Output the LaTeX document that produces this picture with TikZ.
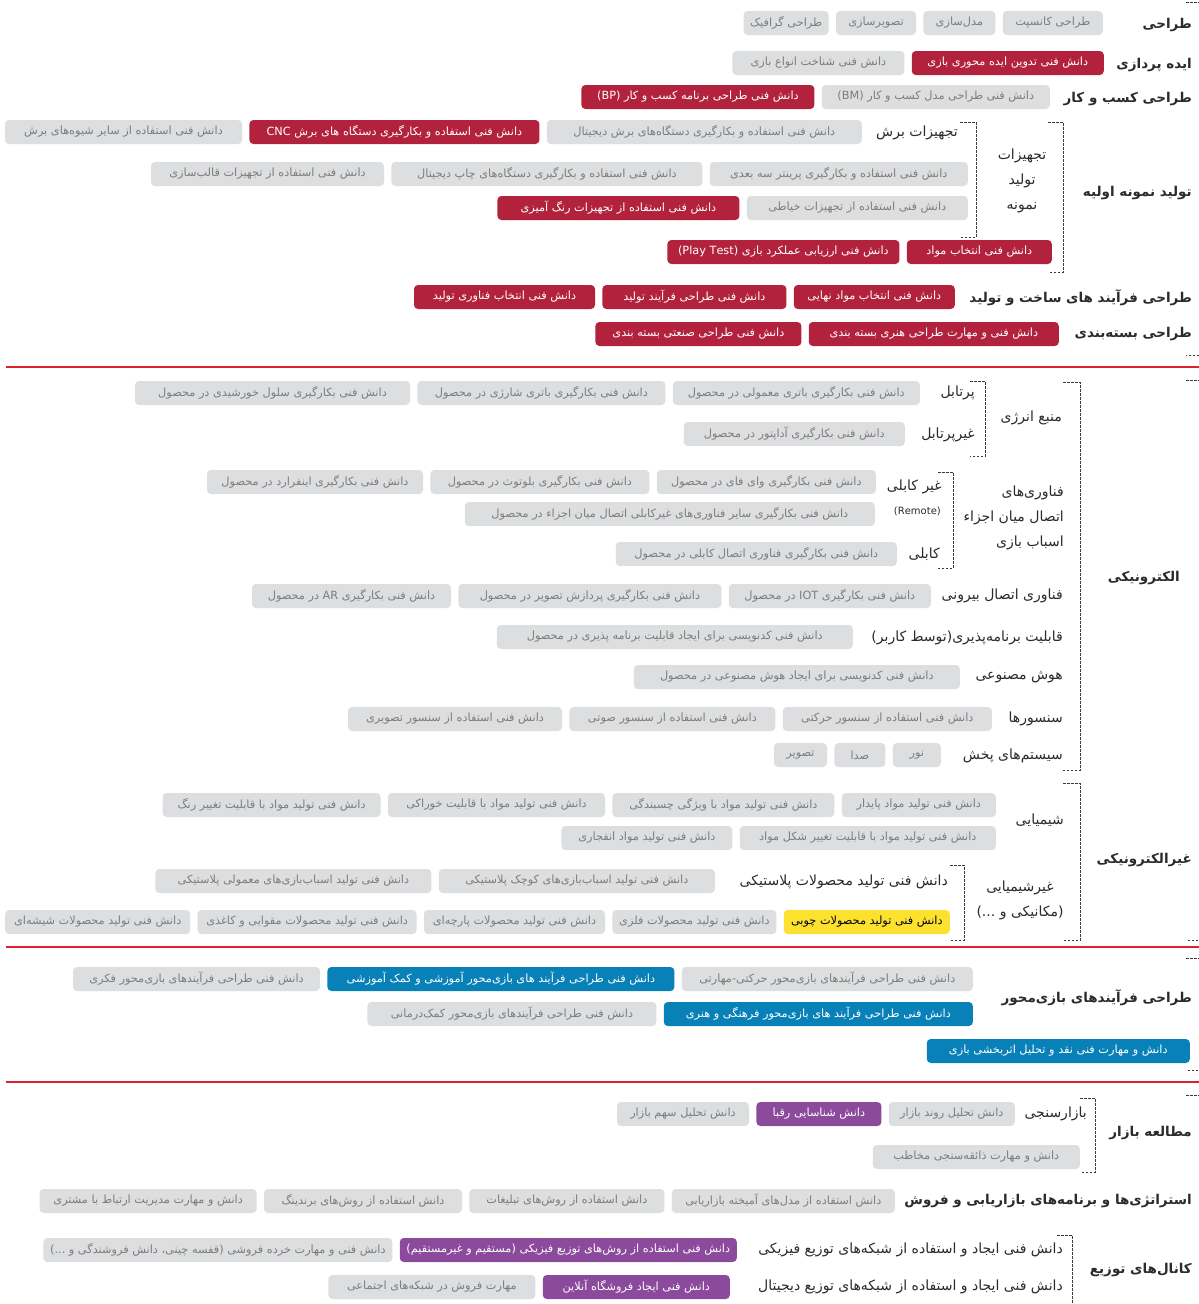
\documentclass[tikz,border=0pt]{standalone}
\usepackage{fontspec}
\newfontfamily\fa[Script=Arabic]{DejaVu Sans}
\TeXXeTstate=1
\usetikzlibrary{positioning}
\definecolor{boxgray}{HTML}{DDDEE0}
\definecolor{boxtext}{HTML}{7D7D7D}
\definecolor{boxred}{HTML}{B3223D}
\definecolor{boxblue}{HTML}{0880B8}
\definecolor{boxpurple}{HTML}{8B4A9C}
\definecolor{boxyellow}{HTML}{FCE22F}
\definecolor{headtext}{HTML}{2B2B2B}
\definecolor{sepred}{HTML}{D9232E}
\definecolor{brkcol}{HTML}{3A3A3A}
\newcommand{\fatext}[1]{\beginR #1\endR}

\begin{document}
\begin{tikzpicture}[x=1pt, y=-1pt,
    node distance=7pt,
    box/.style={rounded corners=4pt, minimum height=24pt, inner sep=2pt, font=\fa\fontsize{11.3}{13}\selectfont},
    graybox/.style={box, fill=boxgray, text=boxtext},
    redbox/.style={box, fill=boxred, text=white},
    bluebox/.style={box, fill=boxblue, text=white},
    purplebox/.style={box, fill=boxpurple, text=white},
    yellowbox/.style={box, fill=boxyellow, text=black},
    head/.style={anchor=east, inner sep=0pt, text=headtext, font=\fa\bfseries\fontsize{13.5}{16}\selectfont},
    sub/.style={anchor=east, inner sep=0pt, text=headtext, font=\fa\fontsize{14}{25}\selectfont},
    brk/.style={draw=brkcol, line width=0.8pt, dash pattern=on 2.5pt off 1.5pt},
    sep/.style={draw=sepred, line width=1.2pt}
]
\useasboundingbox (0,0) rectangle (1199,1304);
\fill[white] (0,0) rectangle (1199,1304);

% --- design / prototype
\node[head] (hDesign) at (1192,25) {\fatext{طراحی}};
\node[graybox, minimum width=100pt, anchor=east] (d1) at (1103,23) {\fatext{طراحی کانسپت}};
\node[graybox, minimum width=72pt, left=of d1] (d2) {\fatext{مدل‌سازی}};
\node[graybox, minimum width=80pt, left=of d2] (d3) {\fatext{تصویرسازی}};
\node[graybox, minimum width=85pt, left=of d3] (d4) {\fatext{طراحی گرافیک}};

\node[head] (hIdea) at (1192,65) {\fatext{ایده پردازی}};
\node[redbox, minimum width=192pt, anchor=east] (i1) at (1104,63) {\fatext{دانش فنی تدوین ایده محوری بازی}};
\node[graybox, minimum width=172pt, left=of i1] (i2) {\fatext{دانش فنی شناخت انواع بازی}};

\node[head] (hBiz) at (1192,99) {\fatext{طراحی کسب و کار}};
\node[graybox, minimum width=228pt, anchor=east] (b1) at (1050,97) {\fatext{دانش فنی طراحی مدل کسب و کار \beginL(BM)\endL}};
\node[redbox, minimum width=233pt, left=of b1] (b2) {\fatext{دانش فنی طراحی برنامه کسب و کار \beginL(BP)\endL}};

\node[head] (hProto) at (1192,193) {\fatext{تولید نمونه اولیه}};
\node[sub, anchor=center, align=center] (lEquip) at (1022,181) {\fatext{تجهیزات}\\\fatext{تولید}\\\fatext{نمونه}};
\node[sub] (lCut) at (958,133) {\fatext{تجهیزات برش}};
\node[graybox, minimum width=315pt, anchor=east] (c1) at (862,132) {\fatext{دانش فنی استفاده و بکارگیری دستگاه‌های برش دیجیتال}};
\node[redbox, minimum width=290pt, left=of c1] (c2) {\fatext{دانش فنی استفاده و بکارگیری دستگاه های برش \beginL CNC\endL}};
\node[graybox, minimum width=237pt, left=of c2] (c3) {\fatext{دانش فنی استفاده از سایر شیوه‌های برش}};
\node[graybox, minimum width=258pt, anchor=east] (p1) at (968,174) {\fatext{دانش فنی استفاده و بکارگیری پرینتر سه بعدی}};
\node[graybox, minimum width=311pt, left=of p1] (p2) {\fatext{دانش فنی استفاده و بکارگیری دستگاه‌های چاپ دیجیتال}};
\node[graybox, minimum width=233pt, left=of p2] (p3) {\fatext{دانش فنی استفاده از تجهیزات قالب‌سازی}};
\node[graybox, minimum width=221pt, anchor=east] (s1) at (968,208) {\fatext{دانش فنی استفاده از تجهیزات خیاطی}};
\node[redbox, minimum width=242pt, left=of s1] (s2) {\fatext{دانش فنی استفاده از تجهیزات رنگ آمیزی}};
\node[redbox, minimum width=145pt, anchor=east] (m1) at (1052,252) {\fatext{دانش فنی انتخاب مواد}};
\node[redbox, minimum width=232pt, left=of m1] (m2) {\fatext{دانش فنی ارزیابی عملکرد بازی \beginL(Play Test)\endL}};
\draw[brk] (1048,122) -| (1063,272) -- (1048,272);
\draw[brk] (960,122) -| (976,237) -- (960,237);

\node[head] (hProc) at (1192,298) {\fatext{طراحی فرآیند های ساخت و تولید}};
\node[redbox, minimum width=161pt, anchor=east] (f1) at (955,297) {\fatext{دانش فنی انتخاب مواد نهایی}};
\node[redbox, minimum width=184pt, left=of f1] (f2) {\fatext{دانش فنی طراحی فرآیند تولید}};
\node[redbox, minimum width=181pt, left=of f2] (f3) {\fatext{دانش فنی انتخاب فناوری تولید}};

\node[head] (hPack) at (1192,334) {\fatext{طراحی بسته‌بندی}};
\node[redbox, minimum width=250pt, anchor=east] (k1) at (1059,334) {\fatext{دانش فنی و مهارت طراحی هنری بسته بندی}};
\node[redbox, minimum width=206pt, left=of k1] (k2) {\fatext{دانش فنی طراحی صنعتی بسته بندی}};

\draw[brk] (1186,2) -- (1200,2) -- (1200,355) -- (1186,355);
\draw[sep] (6,367) -- (1199,367);

% --- electronics
\node[head] (hElec) at (1180,578) {\fatext{الکترونیکی}};
\node[sub] (lEnergy) at (1062,418) {\fatext{منبع انرژی}};
\node[sub] (lPort) at (975,393) {\fatext{پرتابل}};
\node[graybox, minimum width=247pt, anchor=east] (po1) at (920,393) {\fatext{دانش فنی بکارگیری باتری معمولی در محصول}};
\node[graybox, minimum width=248pt, left=of po1] (po2) {\fatext{دانش فنی بکارگیری باتری شارژی در محصول}};
\node[graybox, minimum width=275pt, left=of po2] (po3) {\fatext{دانش فنی بکارگیری سلول خورشیدی در محصول}};
\node[sub] (lNonport) at (975,435) {\fatext{غیرپرتابل}};
\node[graybox, minimum width=221pt, anchor=east] (np1) at (905,434) {\fatext{دانش فنی بکارگیری آداپتور در محصول}};
\draw[brk] (970,381) -| (985,456) -- (970,456);

\node[sub, align=right] (lConn) at (1064,518) {\fatext{فناوری‌های}\\\fatext{اتصال میان اجزاء}\\\fatext{اسباب بازی}};
\node[sub] (lWireless) at (942,487) {\fatext{غیر کابلی}};
\node[graybox, minimum width=219pt, anchor=east] (w1) at (876,482) {\fatext{دانش فنی بکارگیری وای فای در محصول}};
\node[graybox, minimum width=219pt, left=of w1] (w2) {\fatext{دانش فنی بکارگیری بلوتوث در محصول}};
\node[graybox, minimum width=216pt, left=of w2] (w3) {\fatext{دانش فنی بکارگیری اینفرارد در محصول}};
\node[sub, font=\fa\fontsize{10}{12}\selectfont] (lRemote) at (941,511) {(Remote)};
\node[graybox, minimum width=410pt, anchor=east] (w4) at (875,514) {\fatext{دانش فنی بکارگیری سایر فناوری‌های غیرکابلی اتصال میان اجزاء در محصول}};
\node[sub] (lCable) at (940,554) {\fatext{کابلی}};
\node[graybox, minimum width=281pt, anchor=east] (ca1) at (897,554) {\fatext{دانش فنی بکارگیری فناوری اتصال کابلی در محصول}};
\draw[brk] (938,472) -| (953,568) -- (938,568);

\node[sub] (lExt) at (1063,596) {\fatext{فناوری اتصال بیرونی}};
\node[graybox, minimum width=202pt, anchor=east] (x1) at (931,596) {\fatext{دانش فنی بکارگیری \beginL IOT\endL{} در محصول}};
\node[graybox, minimum width=263pt, left=of x1] (x2) {\fatext{دانش فنی بکارگیری پردازش تصویر در محصول}};
\node[graybox, minimum width=199pt, left=of x2] (x3) {\fatext{دانش فنی بکارگیری \beginL AR\endL{} در محصول}};
\node[sub] (lProg) at (1063,638) {\fatext{قابلیت برنامه‌پذیری(توسط کاربر)}};
\node[graybox, minimum width=356pt, anchor=east] (pg1) at (853,637) {\fatext{دانش فنی کدنویسی برای ایجاد قابلیت برنامه پذیری در محصول}};
\node[sub] (lAi) at (1063,677) {\fatext{هوش مصنوعی}};
\node[graybox, minimum width=326pt, anchor=east] (ai1) at (960,677) {\fatext{دانش فنی کدنویسی برای ایجاد هوش مصنوعی در محصول}};
\node[sub] (lSens) at (1063,719) {\fatext{سنسورها}};
\node[graybox, minimum width=209pt, anchor=east] (sn1) at (992,719) {\fatext{دانش فنی استفاده از سنسور حرکتی}};
\node[graybox, minimum width=206pt, left=of sn1] (sn2) {\fatext{دانش فنی استفاده از سنسور صوتی}};
\node[graybox, minimum width=214pt, left=of sn2] (sn3) {\fatext{دانش فنی استفاده از سنسور تصویری}};
\node[sub] (lDisp) at (1063,756) {\fatext{سیستم‌های پخش}};
\node[graybox, minimum width=48pt, anchor=east] (ds1) at (941,755) {\fatext{نور}};
\node[graybox, minimum width=51pt, left=of ds1] (ds2) {\fatext{صدا}};
\node[graybox, minimum width=53pt, left=of ds2] (ds3) {\fatext{تصویر}};
\draw[brk] (1063,382) -| (1080,770) -- (1063,770);

% --- non-electronics
\node[head] (hNonelec) at (1192,860) {\fatext{غیرالکترونیکی}};
\node[sub] (lChem) at (1064,820) {\fatext{شیمیایی}};
\node[graybox, minimum width=154pt, anchor=east] (ch1) at (996,805) {\fatext{دانش فنی تولید مواد پایدار}};
\node[graybox, minimum width=222pt, left=of ch1] (ch2) {\fatext{دانش فنی تولید مواد با ویژگی چسبندگی}};
\node[graybox, minimum width=217pt, left=of ch2] (ch3) {\fatext{دانش فنی تولید مواد با قابلیت خوراکی}};
\node[graybox, minimum width=218pt, left=of ch3] (ch4) {\fatext{دانش فنی تولید مواد با قابلیت تغییر رنگ}};
\node[graybox, minimum width=256pt, anchor=east] (ch5) at (996,838) {\fatext{دانش فنی تولید مواد با قابلیت تغییر شکل مواد}};
\node[graybox, minimum width=171pt, left=of ch5] (ch6) {\fatext{دانش فنی تولید مواد انفجاری}};
\node[sub, anchor=center, align=center] (lMech) at (1020,900) {\fatext{غیرشیمیایی}\\\fatext{(مکانیکی و^^^^00a0...)}};
\node[sub] (lPlast) at (948,882) {\fatext{دانش فنی تولید محصولات پلاستیکی}};
\node[graybox, minimum width=276pt, anchor=east] (pl1) at (715,881) {\fatext{دانش فنی تولید اسباب‌بازی‌های کوچک پلاستیکی}};
\node[graybox, minimum width=276pt, left=of pl1] (pl2) {\fatext{دانش فنی تولید اسباب‌بازی‌های معمولی پلاستیکی}};
\node[yellowbox, minimum width=166pt, anchor=east] (mt1) at (950,922) {\fatext{دانش فنی تولید محصولات چوبی}};
\node[graybox, minimum width=164pt, left=of mt1] (mt2) {\fatext{دانش فنی تولید محصولات فلزی}};
\node[graybox, minimum width=181pt, left=of mt2] (mt3) {\fatext{دانش فنی تولید محصولات پارچه‌ای}};
\node[graybox, minimum width=219pt, left=of mt3] (mt4) {\fatext{دانش فنی تولید محصولات مقوایی و کاغذی}};
\node[graybox, minimum width=185pt, left=of mt4] (mt5) {\fatext{دانش فنی تولید محصولات شیشه‌ای}};
\draw[brk] (950,865) -| (964,940) -- (950,940);
\draw[brk] (1063,783) -| (1080,940) -- (1063,940);

\draw[brk] (1186,380) -- (1200,380) -- (1200,940) -- (1186,940);
\draw[sep] (6,947) -- (1199,947);

% --- game based processes
\node[head] (hGame) at (1192,998) {\fatext{طراحی فرآیندهای بازی‌محور}};
\node[graybox, minimum width=291pt, anchor=east] (g1) at (973,979) {\fatext{دانش فنی طراحی فرآیندهای بازی‌محور حرکتی-مهارتی}};
\node[bluebox, minimum width=347pt, left=of g1] (g2) {\fatext{دانش فنی طراحی فرآیند های بازی‌محور آموزشی و کمک آموزشی}};
\node[graybox, minimum width=247pt, left=of g2] (g3) {\fatext{دانش فنی طراحی فرآیندهای بازی‌محور فکری}};
\node[bluebox, minimum width=309pt, anchor=east] (g4) at (973,1014) {\fatext{دانش فنی طراحی فرآیند های بازی‌محور فرهنگی و هنری}};
\node[graybox, minimum width=289pt, left=of g4] (g5) {\fatext{دانش فنی طراحی فرآیندهای بازی‌محور کمک‌درمانی}};
\node[bluebox, minimum width=263pt, anchor=east] (g6) at (1190,1051) {\fatext{دانش و مهارت فنی نقد و تحلیل اثربخشی بازی}};

\draw[brk] (1186,958) -- (1200,958) -- (1200,1070) -- (1186,1070);
\draw[sep] (6,1082) -- (1199,1082);

% --- market
\node[head] (hMarket) at (1192,1133) {\fatext{مطالعه بازار}};
\node[sub] (lSurvey) at (1087,1114) {\fatext{بازارسنجی}};
\node[graybox, minimum width=126pt, anchor=east] (ms1) at (1015,1114) {\fatext{دانش تحلیل روند بازار}};
\node[purplebox, minimum width=125pt, left=of ms1] (ms2) {\fatext{دانش شناسایی رقبا}};
\node[graybox, minimum width=132pt, left=of ms2] (ms3) {\fatext{دانش تحلیل سهم بازار}};
\node[graybox, minimum width=207pt, anchor=east] (ms4) at (1080,1157) {\fatext{دانش و مهارت ذائقه‌سنجی مخاطب}};
\draw[brk] (1080,1098) -| (1095,1172) -- (1080,1172);

\node[head] (hStrat) at (1192,1201) {\fatext{استراتژی‌ها و برنامه‌های بازاریابی و فروش}};
\node[graybox, minimum width=223pt, anchor=east] (st1) at (895,1201) {\fatext{دانش استفاده از مدل‌های آمیخته بازاریابی}};
\node[graybox, minimum width=195pt, left=of st1] (st2) {\fatext{دانش استفاده از روش‌های تبلیغات}};
\node[graybox, minimum width=198pt, left=of st2] (st3) {\fatext{دانش استفاده از روش‌های برندینگ}};
\node[graybox, minimum width=217pt, left=of st3] (st4) {\fatext{دانش و مهارت مدیریت ارتباط با مشتری}};

\node[head] (hDist) at (1192,1270) {\fatext{کانال‌های توزیع}};
\node[sub] (lPhys) at (1063,1250) {\fatext{دانش فنی ایجاد و استفاده از شبکه‌های توزیع فیزیکی}};
\node[purplebox, minimum width=337pt, anchor=east] (ph1) at (737,1250) {\fatext{دانش فنی استفاده از روش‌های توزیع فیزیکی (مستقیم و غیرمستقیم)}};
\node[graybox, minimum width=349pt, left=of ph1] (ph2) {\fatext{دانش فنی و مهارت خرده فروشی (قفسه چینی، دانش فروشندگی و^^^^00a0...)}};
\node[sub] (lDig) at (1063,1287) {\fatext{دانش فنی ایجاد و استفاده از شبکه‌های توزیع دیجیتال}};
\node[purplebox, minimum width=187pt, anchor=east] (dg1) at (730,1287) {\fatext{دانش فنی ایجاد فروشگاه آنلاین}};
\node[graybox, minimum width=207pt, left=of dg1] (dg2) {\fatext{مهارت فروش در شبکه‌های اجتماعی}};
\draw[brk] (1057,1235) -| (1072,1310);

\draw[brk] (1186,1095) -- (1200,1095) -- (1200,1310);
\end{tikzpicture}
\end{document}
